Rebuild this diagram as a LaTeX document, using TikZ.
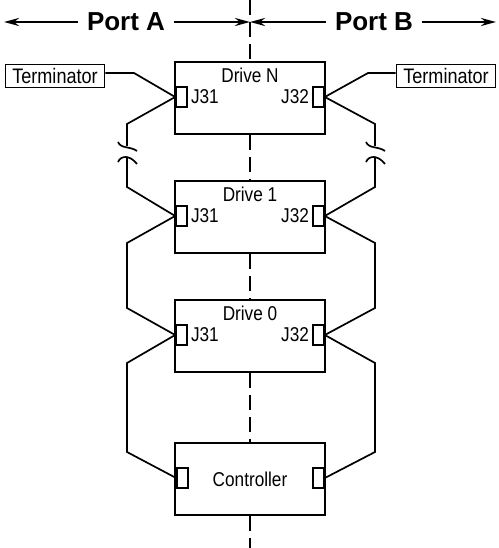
\documentclass[tikz,border=0pt]{standalone}
\usepackage{fontspec}
\newfontfamily\narrowsf[FakeStretch=0.86]{Liberation Sans}
\newfontfamily\portsf{Liberation Sans}
\usetikzlibrary{arrows.meta}

\begin{document}
\begin{tikzpicture}[
        x=1pt, y=-1pt,
        wire/.style={line width=1.7pt},
        drive/.style={draw, line width=1.7pt, minimum width=150pt, minimum height=72pt, inner sep=0pt},
        jack/.style={draw, line width=1.7pt, minimum width=11pt, minimum height=20pt, inner sep=0pt},
        term/.style={draw, line width=1.7pt, minimum width=99pt, minimum height=23pt, inner sep=0pt, font=\narrowsf\fontsize{21}{23}\selectfont},
        port/.style={font=\portsf\bfseries\fontsize{26}{28}\selectfont, inner sep=9pt},
        parr/.style={-{Stealth[length=15pt, width=8pt]}, line width=2.8pt},
        centre/.style={line width=1.7pt, dash pattern=on 15pt off 7pt},
        dname/.style={anchor=north, inner sep=0pt, yshift=-7pt, font=\narrowsf\fontsize{20}{22}\selectfont},
        jname/.style={inner sep=0pt, label distance=3pt, font=\narrowsf\fontsize{20}{22}\selectfont}
    ]
        \useasboundingbox (0,0) rectangle (498,548);

        % Ports
        \coordinate (lft) at (4,22);
        \coordinate (mid) at (250,22);
        \coordinate (rgt) at (496,22);
        \node[port] (portA) at (126,22) {Port A};
        \node[port] (portB) at (374,22) {Port B};
        \draw[parr] (portA.west) -- (lft);
        \draw[parr] (portA.east) -- (mid);
        \draw[parr] (portB.west) -- (mid);
        \draw[parr] (portB.east) -- (rgt);

        % Drives and controller
        \node[drive, label={[dname]north:Drive N}] (driveN) at (250,98) {};
        \node[drive, label={[dname]north:Drive 1}] (drive1) at (250,217) {};
        \node[drive, label={[dname]north:Drive 0}] (drive0) at (250,336) {};
        \node[drive, font=\narrowsf\fontsize{20}{22}\selectfont] (ctrl) at (250,479) {Controller};

        \node[jack, label={[jname]right:J31}] (jaN) at (181.5,97) {};
        \node[jack, label={[jname]left:J32}] (jbN) at (318.5,97) {};
        \node[jack, label={[jname]right:J31}] (ja1) at (181.5,216) {};
        \node[jack, label={[jname]left:J32}] (jb1) at (318.5,216) {};
        \node[jack, label={[jname]right:J31}] (ja0) at (181.5,335) {};
        \node[jack, label={[jname]left:J32}] (jb0) at (318.5,335) {};
        \node[jack] (jaC) at (182.5,478) {};
        \node[jack] (jbC) at (318.5,478) {};

        % Terminators
        \node[term] (termA) at (55,76) {Terminator};
        \node[term] (termB) at (446,76) {Terminator};
        \draw[wire] ([yshift=3pt]termA.east) -- (134,73) -- (jaN.west);
        \draw[wire] ([yshift=3pt]termB.west) -- (368,73) -- (jbN.east);

        % Centre line
        \coordinate (ctop) at (250,0);
        \coordinate (cbot) at (250,548);
        \draw[centre] (ctop) -- (driveN.north);
        \draw[centre] (driveN.south) -- (drive1.north);
        \draw[centre] (drive1.south) -- (drive0.north);
        \draw[centre] (drive0.south) -- (ctrl.north);
        \draw[centre] (ctrl.south) -- (cbot);

        % Port A cable
        \draw[wire] (jaN.west) -- (127,124) -- (127,146);
        \draw[wire] (118,142) .. controls (121,149) and (130,146) .. (137,151);
        \draw[wire] (118,162) .. controls (121,155) and (130,155) .. (137,164);
        \draw[wire] (127,157) -- (127,187) -- (ja1.west);
        \draw[wire] (ja1.west) -- (127,243) -- (127,308) -- (ja0.west);
        \draw[wire] (ja0.west) -- (127,363) -- (127,452) -- (jaC.west);

        % Port B cable
        \draw[wire] (jbN.east) -- (375,124) -- (375,146);
        \draw[wire] (366,142) .. controls (369,149) and (378,146) .. (385,151);
        \draw[wire] (366,162) .. controls (369,155) and (378,155) .. (385,164);
        \draw[wire] (375,157) -- (375,187) -- (jb1.east);
        \draw[wire] (jb1.east) -- (375,243) -- (375,308) -- (jb0.east);
        \draw[wire] (jb0.east) -- (375,363) -- (375,452) -- (jbC.east);
    \end{tikzpicture}
\end{document}
